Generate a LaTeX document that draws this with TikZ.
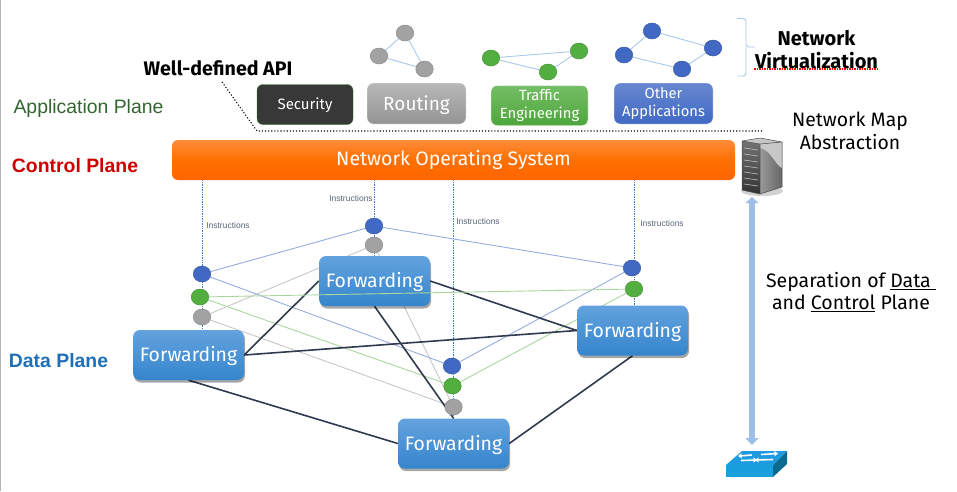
\documentclass[tikz,border=0pt]{standalone}
\usepackage{fontspec}
\setmainfont{Fira Sans}
\newfontfamily\arialf{Liberation Sans}
\usetikzlibrary{arrows.meta,shadows,backgrounds,positioning,shapes.geometric}
\definecolor{blueN}{HTML}{4169C4}
\definecolor{greenN}{HTML}{52AE3F}
\definecolor{grayN}{HTML}{A2A2A2}
\definecolor{lnk}{HTML}{A9C9EA}
\definecolor{darkL}{HTML}{2F3A4E}
\definecolor{instr}{HTML}{3F7FC0}
\definecolor{fwdTop}{HTML}{63A2DE}
\definecolor{fwdBot}{HTML}{3585CC}
\definecolor{arrowC}{HTML}{9DBFE6}
\definecolor{swTop}{HTML}{1E9BE0}
\definecolor{swFront}{HTML}{189FDC}
\definecolor{swSide}{HTML}{0A6A90}
\definecolor{lblC}{HTML}{5A6478}
\definecolor{apC}{HTML}{33662F}
\definecolor{cpC}{HTML}{CC0000}
\definecolor{dpC}{HTML}{1F6FB5}
\definecolor{osA}{HTML}{FF8C3A}
\definecolor{osB}{HTML}{FF7000}
\definecolor{osC}{HTML}{FF6500}
\tikzset{
 netdot/.style={ellipse,minimum width=17.5pt,minimum height=16pt,inner sep=0pt,draw=#1!85!black,line width=.5pt,fill=#1},
 appbox/.style={rounded corners=6pt,minimum height=40pt,text=white,inner sep=0pt,align=center,draw=white,line width=.4pt},
 fwd/.style={rounded corners=7pt,minimum width=111pt,minimum height=50pt,inner sep=0pt,text=white,font=\fontsize{19.4}{22}\selectfont,
   text height=18pt,text depth=4.5pt,
   top color=fwdTop,bottom color=fwdBot,drop shadow={shadow xshift=1pt,shadow yshift=-2.5pt,opacity=.35,fill=black}},
 thinlink/.style={line width=.9pt},
 biglink/.style={line width=1.6pt,draw=darkL},
 instrline/.style={line width=.7pt,draw=instr,densely dotted},
 lbl/.style={font=\arialf\fontsize{8.5}{9}\selectfont,text=lblC,inner sep=0pt},
 txt/.style={inner sep=0pt,align=center},
 apidot/.style={line width=1.1pt,dotted,draw=black}
}
\begin{document}
\begin{tikzpicture}[x=1pt,y=-1pt]
\useasboundingbox (0,0) rectangle (957,491);
\fill[black!30] (0,0) rectangle (1.2,491);

% app boxes
\node[appbox,minimum width=96pt,fill=black!78,draw=greenN!70!black,font=\fontsize{15}{16}\selectfont,text height=13pt,text depth=3.5pt] (sec) at (305,104.5) {Security};
\node[appbox,minimum width=99pt,minimum height=41pt,top color=black!28,bottom color=black!42,font=\fontsize{19}{22}\selectfont,text height=17pt,text depth=4pt] (rout) at (416.5,103.5) {Routing};
\node[appbox,minimum width=97pt,top color=greenN!80!white,bottom color=greenN!95!black,font=\fontsize{14.8}{18}\selectfont] (traf) at (539.5,105.5) {Traffic\\Engineering};
\node[appbox,minimum width=99pt,minimum height=41pt,top color=blueN!80!white,bottom color=blueN,font=\fontsize{14.7}{18}\selectfont] (oth) at (663.5,103.5) {Other\\Applications};

% small graphs
\node[netdot=grayN] (r1) at (405,33) {};
\node[netdot=grayN] (r2) at (379,56) {};
\node[netdot=grayN] (r3) at (424.5,69) {};
\draw[lnk,thinlink] (r1)--(r2) (r2)--(r3) (r3)--(r1);
\node[netdot=greenN] (g1) at (491,58) {};
\node[netdot=greenN] (g2) at (579,51) {};
\node[netdot=greenN] (g3) at (548,72) {};
\draw[lnk,thinlink] (g1)--(g2) (g1)--(g3) (g3)--(g2);
\node[netdot=blueN] (b1) at (652,31) {};
\node[netdot=blueN] (b2) at (624,55) {};
\node[netdot=blueN] (b3) at (713,48) {};
\node[netdot=blueN] (b4) at (682,69) {};
\draw[lnk,thinlink] (b1)--(b2) (b1)--(b3) (b2)--(b4) (b4)--(b3);

% brace
\coordinate (brT) at (737,18.5);
\coordinate (brB) at (737,76);
\coordinate (brM) at (755,47);
\draw[lnk,line width=.9pt,rounded corners=3pt] (brT)--(746,18.5)--(746,47)--(brM);
\draw[lnk,line width=.9pt,rounded corners=3pt] (brB)--(746,76)--(746,47);

% texts top
\node[txt,font=\fontsize{20}{23}\selectfont\bfseries] (nv) at (816.5,50) {Network\\Virtualization};
\coordinate (nvA) at (754,69); \coordinate (nvB) at (879,69);
\draw[red,line width=1.1pt,dash pattern=on 1.5pt off 1pt] (nvA)--(nvB);
\node[txt,font=\fontsize{19.4}{22.5}\selectfont] (nm) at (850,131) {Network Map\\Abstraction};
\node[txt,font=\fontsize{19.6}{21}\selectfont\bfseries] (api) at (218,68) {Well-defined API};
\node[txt,font=\arialf\fontsize{19.4}{21}\selectfont,text=apC] (ap) at (88.5,108) {Application Plane};
\node[txt,font=\arialf\fontsize{19.4}{21}\selectfont\bfseries,text=cpC] (cp) at (75,166) {Control Plane};
\node[txt,font=\arialf\fontsize{19.4}{21}\selectfont\bfseries,text=dpC] (dp) at (58.5,361) {Data Plane};

% API dotted line
\coordinate (ap1) at (222,82); \coordinate (ap2) at (257,131); \coordinate (ap3) at (762,131);
\draw[apidot] (ap1)--(ap2)--(ap3);

% NOS bar
\node[rounded corners=6pt,minimum width=563pt,minimum height=40pt,inner sep=0pt,top color=osA,bottom color=osC,
  middle color=osB,text=white,font=\fontsize{19.5}{21}\selectfont,text height=16pt,text depth=4.5pt] (os) at (453.5,160) {Network Operating System};

% server
\fill[black,opacity=.18] (762,191) ellipse (21pt and 5pt);
\fill[black!22] (742,141)--(760,138)--(782,142)--(760,144)--cycle;
\shade[top color=black!55,bottom color=black!80] (742,141)--(760,144)--(760,194)--(742,190)--cycle;
\foreach \yy in {148,154,160,166,172,178,184}{\draw[black!25,line width=.6pt] (744,\yy)--(758,\yy+2);}
\shade[left color=black!40,right color=black!60] (760,144)--(782,142)--(782,187)--(760,194)--cycle;
\fill[black!22] (760,144)--(782,142)--(782,168) .. controls (775,165) and (771,150) .. (760,148)--cycle;
\draw[black!70,line width=.5pt] (742,141)--(760,138)--(782,142)--(782,187)--(760,194)--(742,190)--cycle (742,141)--(760,144)--(782,142) (760,144)--(760,194);
\node[inner sep=0pt,minimum width=42pt,minimum height=56pt] (srv) at (762,167) {};

% switch
\fill[swTop] (726,465)--(742,451)--(787,451)--(773,465)--cycle;
\fill[swFront] (726,465) rectangle (773,477);
\fill[swSide] (773,465)--(787,451)--(787,464)--(773,477)--cycle;
\draw[white,line width=1.6pt,-{Triangle[length=3.5pt,width=5pt]}] (741,460.5)--(757,460);
\draw[white,line width=1.6pt,{Triangle[length=3.5pt,width=5pt]}-] (738,456)--(752,455);
\draw[white,line width=1.6pt,-{Triangle[length=3.5pt,width=5pt]}] (761,454.5)--(778,453.5);
\draw[white,line width=1.6pt,{Triangle[length=3.5pt,width=5pt]}-] (755,460)--(773,459.5);
\node[inner sep=0pt,minimum width=61pt,minimum height=26pt] (sw) at (756.5,464) {};

% double arrow
\coordinate (arT) at (752,197); \coordinate (arB) at (752,445);
\draw[line width=6pt,draw=arrowC,{Triangle[length=6pt,width=13pt]}-{Triangle[length=7pt,width=13pt]}] (arT)--(arB);

\node[txt,font=\fontsize{19.5}{22}\selectfont] (sep) at (851,292) {Separation of \underline{Data\ }\\and \underline{Control} Plane};

% network nodes
\node[netdot=blueN] (la) at (202,274) {};
\node[netdot=greenN] (lb) at (200,297) {};
\node[netdot=grayN] (lc) at (202,317) {};
\node[netdot=blueN] (ma) at (374,226) {};
\node[netdot=grayN] (mc) at (374,245) {};
\node[netdot=blueN] (ba) at (452,366) {};
\node[netdot=greenN] (bb) at (452.5,386) {};
\node[netdot=grayN] (bc) at (453.5,407) {};
\node[netdot=blueN] (ra) at (632,268) {};
\node[netdot=greenN] (rb) at (634,289) {};

% forwarding boxes
\node[fwd] (f1) at (188.5,355) {Forwarding};
\node[fwd] (f2) at (374.5,281) {Forwarding};
\node[fwd] (f3) at (632.5,330.5) {Forwarding};
\node[fwd] (f4) at (453.5,443.5) {Forwarding};

% instruction labels
\node[lbl] (i1) at (228,225) {Instructions};
\node[lbl] (i2) at (351,198) {Instructions};
\node[lbl] (i3) at (478,221) {Instructions};
\node[lbl] (i4) at (662,223) {Instructions};

\begin{scope}[on background layer]
 \draw[instrline] (os.south -| la)--(f1.north -| la);
 \draw[instrline] (os.south -| ma)--(f2.north -| ma);
 \draw[instrline] (os.south -| bc)--(f4.north -| bc);
 \draw[instrline] (os.south -| rb)--(f3.north -| rb);
 \draw[black!22,thinlink] (lc)--(mc) (lc)--(bc) (mc)--(bc);
 \draw[blueN!55!white,thinlink] (la)--(ma) (la)--(ba) (ma)--(ra) (ba)--(ra);
 \draw[greenN!50!white,thinlink] (lb)--(bb) (bb)--(rb);
 \draw[biglink] (f1.east)--(f2.west);
 \draw[biglink] (f1.east)--(f3.west);
 \draw[biglink] (f2.east)--(f3.west);
 \draw[biglink] (f1.south)--(f4.west);
 \draw[biglink] (f2.south)--(f4.north);
 \draw[biglink] (f4.east)--(f3.south);
\end{scope}
\draw[greenN!50!white,thinlink] (lb)--(rb);
\end{tikzpicture}
\end{document}
